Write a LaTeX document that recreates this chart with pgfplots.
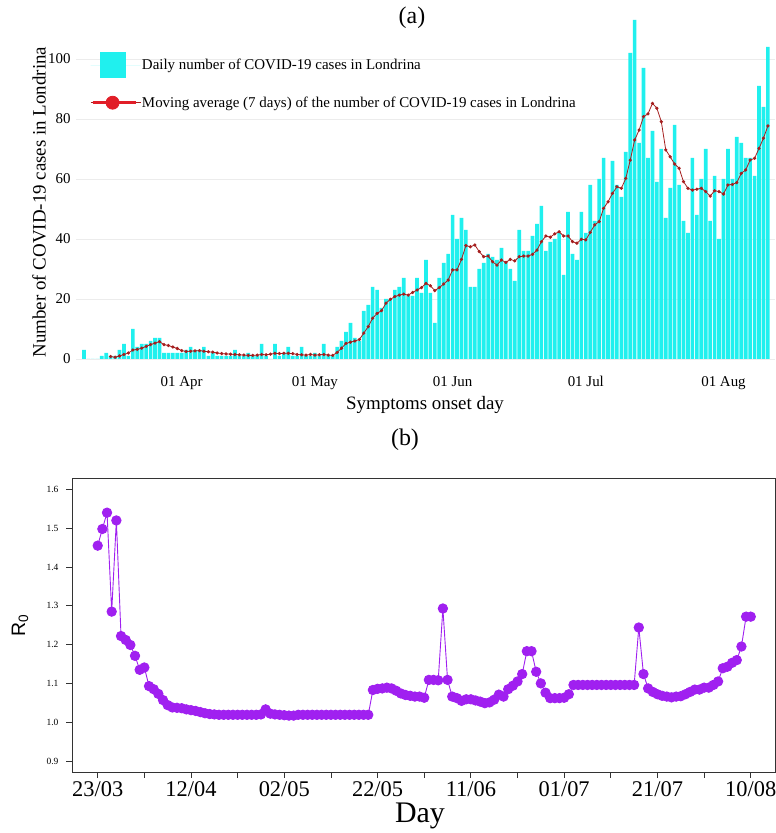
\documentclass[border=0pt]{standalone}
\usepackage{pgfplots}
\usepackage{pgfplotstable}
\usepackage{fontspec}
\pgfplotsset{compat=1.18}
\setmainfont{Liberation Serif}
\newfontfamily\arialfont{Liberation Sans}

\definecolor{barc}{RGB}{32,240,238}
\definecolor{mac}{RGB}{165,30,30}
\definecolor{legred}{RGB}{225,30,40}
\definecolor{gridc}{RGB}{236,236,236}
\definecolor{rzero}{RGB}{160,32,240}

% daily cases (day 0 = 01 Apr)
\pgfplotstableread{
d v
-22 3
-21 0
-20 0
-19 0
-18 1
-17 2
-16 1
-15 1
-14 3
-13 5
-12 1
-11 10
-10 4
-9 5
-8 5
-7 6
-6 7
-5 7
-4 2
-3 2
-2 2
-1 2
0 2
1 3
2 4
3 3
4 3
5 4
6 1
7 2
8 1
9 1
10 1
11 1
12 3
13 1
14 1
15 2
16 1
17 1
18 5
19 1
20 0
21 5
22 1
23 2
24 4
25 1
26 1
27 4
28 1
29 1
30 2
31 1
32 5
33 1
34 1
35 4
36 6
37 9
38 12
39 7
40 6
41 16
42 18
43 24
44 23
45 17
46 20
47 20
48 23
49 24
50 27
51 21
52 21
53 27
54 22
55 33
56 22
57 12
58 27
59 32
60 35
61 48
62 40
63 47
64 43
65 24
66 24
67 30
68 32
69 35
70 34
71 33
72 37
73 32
74 30
75 26
76 43
77 36
78 36
79 41
80 45
81 51
82 36
83 39
84 40
85 42
86 28
87 49
88 35
89 33
90 49
91 42
92 58
93 46
94 60
95 67
96 48
97 66
98 58
99 54
100 69
101 102
102 113
103 72
104 97
105 67
106 76
107 59
108 70
109 47
110 57
111 78
112 58
113 46
114 42
115 67
116 48
117 60
118 70
119 46
120 61
121 40
122 60
123 70
124 60
125 74
126 72
127 67
128 67
129 61
130 91
131 84
132 104
}\dailytab

% 7-day moving average
\pgfplotstableread{
d v
-16 0.8
-15 0.6
-14 1.0
-13 1.5
-12 2.0
-11 3.0
-10 3.2
-9 3.6
-8 4.2
-7 4.8
-6 5.3
-5 5.8
-4 4.8
-3 4.5
-2 4.0
-1 3.5
0 2.8
1 2.5
2 2.6
3 2.7
4 2.8
5 2.6
6 2.4
7 2.3
8 2.0
9 1.8
10 1.7
11 1.6
12 1.5
13 1.4
14 1.3
15 1.2
16 1.2
17 1.3
18 1.5
19 1.4
20 1.6
21 1.9
22 1.8
23 1.9
24 1.9
25 1.8
26 1.5
27 1.4
28 1.3
29 1.5
30 1.3
31 1.4
32 1.5
33 1.3
34 1.2
35 2.2
36 3.6
37 5.2
38 5.6
39 6.0
40 6.5
41 8.6
42 10.8
43 13.6
44 15.2
45 16.1
46 18.6
47 19.9
48 20.8
49 21.3
50 21.6
51 21.3
52 22.2
53 23.0
54 23.8
55 25.2
56 24.4
57 22.8
58 23.8
59 25.0
60 26.3
61 29.7
62 29.7
63 33.2
64 37.8
65 37.4
66 38.0
67 35.8
68 34.1
69 34.3
70 32.4
71 31.3
72 33.0
73 32.2
74 33.2
75 32.7
76 34.1
77 34.3
78 34.3
79 34.9
80 36.3
81 39.1
82 41.0
83 40.6
84 41.7
85 42.4
86 41.0
87 41.0
88 39.1
89 38.6
90 39.9
91 39.7
92 42.2
93 44.7
94 45.8
95 50.2
96 52.4
97 55.2
98 57.4
99 56.9
100 60.2
101 66.3
102 73.0
103 76.3
104 80.8
105 81.7
106 85.2
107 83.6
108 79.1
109 69.7
110 67.4
111 65.0
112 63.6
113 59.1
114 56.9
115 56.3
116 56.6
117 56.9
118 55.8
119 54.3
120 56.1
121 55.8
122 55.0
123 58.0
124 58.2
125 58.8
126 61.9
127 63.0
128 66.3
129 66.9
130 70.2
131 73.6
132 77.7
}\matab

% R0 (day 0 = 23/03)
\pgfplotstableread{
k r
0 1.455
1 1.498
2 1.540
3 1.285
4 1.520
5 1.222
6 1.212
7 1.199
8 1.171
9 1.135
10 1.141
11 1.093
12 1.085
13 1.073
14 1.057
15 1.044
16 1.038
17 1.037
18 1.036
19 1.033
20 1.031
21 1.029
22 1.026
23 1.023
24 1.021
25 1.020
26 1.019
27 1.019
28 1.019
29 1.019
30 1.019
31 1.019
32 1.019
33 1.019
34 1.019
35 1.020
36 1.033
37 1.022
38 1.020
39 1.019
40 1.018
41 1.017
42 1.017
43 1.019
44 1.019
45 1.019
46 1.019
47 1.019
48 1.019
49 1.019
50 1.019
51 1.019
52 1.019
53 1.019
54 1.019
55 1.019
56 1.019
57 1.019
58 1.019
59 1.083
60 1.086
61 1.087
62 1.089
63 1.087
64 1.081
65 1.074
66 1.070
67 1.068
68 1.066
69 1.066
70 1.063
71 1.109
72 1.109
73 1.108
74 1.293
75 1.109
76 1.066
77 1.062
78 1.055
79 1.059
80 1.059
81 1.056
82 1.053
83 1.049
84 1.051
85 1.058
86 1.071
87 1.066
88 1.085
89 1.094
90 1.105
91 1.124
92 1.183
93 1.183
94 1.130
95 1.100
96 1.076
97 1.062
98 1.062
99 1.062
100 1.063
101 1.072
102 1.096
103 1.096
104 1.096
105 1.096
106 1.096
107 1.096
108 1.096
109 1.096
110 1.096
111 1.096
112 1.096
113 1.096
114 1.096
115 1.096
116 1.244
117 1.124
118 1.087
119 1.078
120 1.072
121 1.068
122 1.066
123 1.064
124 1.066
125 1.067
126 1.072
127 1.078
128 1.084
129 1.084
130 1.089
131 1.089
132 1.096
133 1.105
134 1.139
135 1.143
136 1.153
137 1.160
138 1.195
139 1.272
140 1.272
}\rtab

\begin{document}
\begin{tikzpicture}
\useasboundingbox (0,0) rectangle (776bp,833bp);

% ---- (a) daily cases
\begin{axis}[
    at={(76bp,474bp)}, anchor=south west,
    scale only axis,
    width=699bp, height=340.5bp,
    xmin=-23.8, xmax=133.6,
    ymin=0, ymax=113.5,
    axis line style={draw=none},
    tick style={draw=none},
    xtick={0,30,61,91,122},
    xticklabels={01 Apr,01 May,01 Jun,01 Jul,01 Aug},
    ytick={0,20,...,100},
    ymajorgrids,
    grid style={draw=gridc, line width=0.7bp},
    /pgf/number format/assume math mode=true,
    ticklabel style={font=\fontsize{15}{18}\selectfont},
    xticklabel style={yshift=-14bp},
    yticklabel style={xshift=-2bp},
    legend cell align=left,
    legend style={draw=none, fill=none, inner sep=0pt,
        at={(0.020,0.9016)}, anchor=north west,
        font=\fontsize{15}{18}\selectfont, row sep=17.5bp,
        nodes={inner sep=1bp}},
]
\addplot[ybar, bar width=0.82, fill=barc, draw=none,
    legend image code/.code={\path (0bp,0bp) -- (50bp,0bp);
        \fill[barc] (9bp,-13bp) rectangle (35bp,13bp);}]
    table[x=d, y=v] {\dailytab};
\addlegendentry{Daily number of COVID-19 cases in Londrina}
\addplot[mac, line width=0.8bp, mark=*, mark size=1.2bp,
    mark options={fill=mac, draw=mac},
    legend image code/.code={\path (0bp,0bp) -- (50bp,0bp);
        \draw[legred, line width=3bp] (2bp,0bp) -- (45bp,0bp);
        \fill[legred] (22bp,0bp) circle (6.5bp);}]
    table[x=d, y=v] {\matab};
\addlegendentry{Moving average (7 days) of the number of COVID-19 cases in Londrina}
\end{axis}

\node[font=\fontsize{24}{28}\selectfont] at (412bp,815bp) {(a)};
\node[font=\fontsize{19}{22}\selectfont] at (425bp,428bp) {Symptoms onset day};
\node[font=\fontsize{19}{22}\selectfont, rotate=90] at (39bp,631bp) {Number of COVID-19 cases in Londrina};

% ---- (b) R0
\begin{axis}[
    at={(72bp,61bp)}, anchor=south west,
    scale only axis,
    width=703bp, height=294bp,
    xmin=-5.51, xmax=145.2,
    ymin=0.8716, ymax=1.6294,
    axis line style={draw=black!80, line width=0.8bp},
    tick style={draw=black!80, line width=0.8bp},
    tick align=outside,
    major tick length=6bp,
    xtick pos=bottom, ytick pos=left,
    xtick={0,10,...,140},
    xticklabels={23/03,,12/04,,02/05,,22/05,,11/06,,01/07,,21/07,,10/08},
    ytick={0.9,1.0,...,1.6},
    /pgf/number format/assume math mode=true,
    yticklabel style={font=\fontsize{9.5}{11}\selectfont, xshift=-4bp,
        /pgf/number format/.cd, fixed, fixed zerofill, precision=1},
    xticklabel style={font=\fontsize{22.5}{26}\selectfont},
]
\addplot[rzero, line width=0.9bp, mark=*, mark size=4.7bp,
    mark options={fill=rzero, draw=rzero}]
    table[x=k, y=r] {\rtab};
\end{axis}

\node[font=\fontsize{24}{28}\selectfont] at (405bp,393bp) {(b)};
\node[font=\fontsize{30}{34}\selectfont] at (420bp,17bp) {Day};
\node[font=\arialfont\fontsize{19.5}{22}\selectfont, rotate=90] at (20bp,208bp) {R\textsubscript{0}};
\end{tikzpicture}
\end{document}
